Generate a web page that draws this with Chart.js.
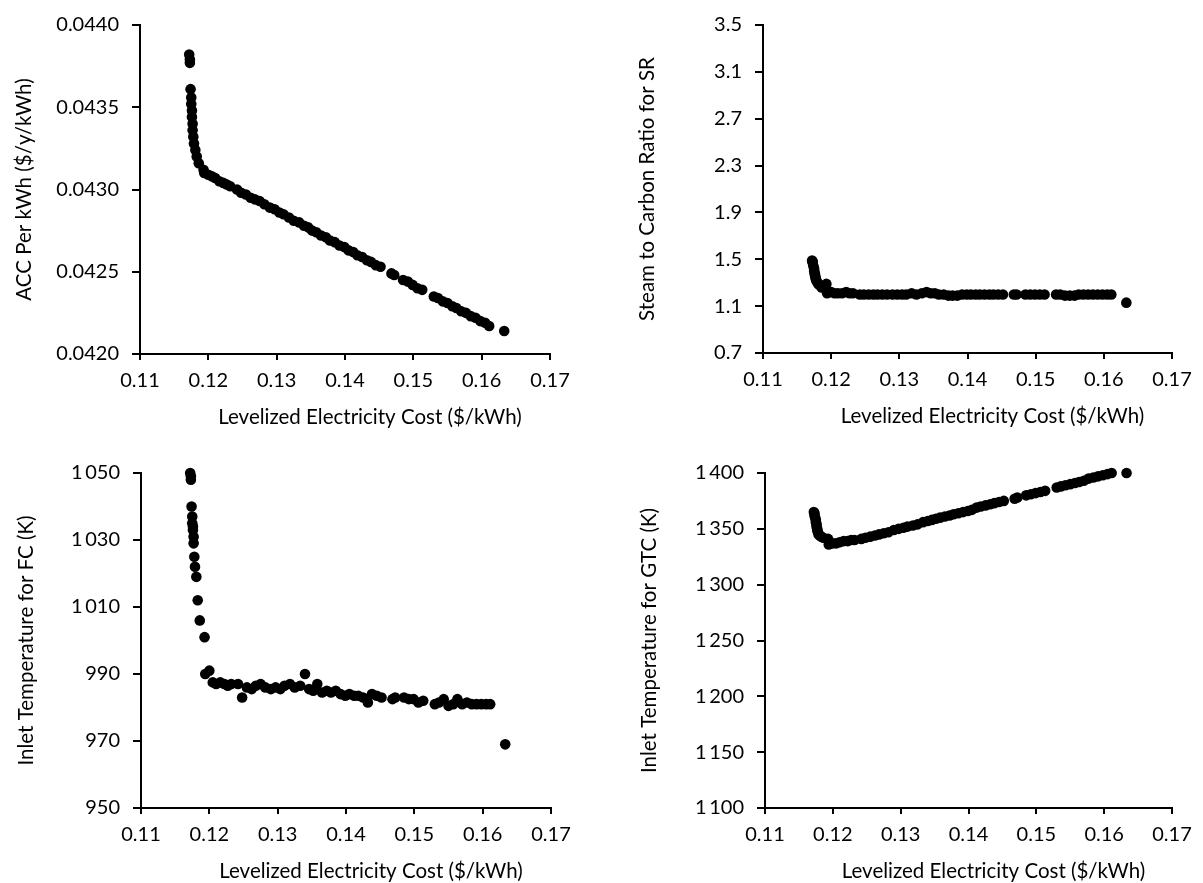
<!DOCTYPE html>
<html>
<head>
<meta charset="utf-8">
<script src="https://cdn.jsdelivr.net/npm/chart.js@4.4.1/dist/chart.umd.min.js"></script>
<style>
html, body { margin: 0; padding: 0; background: #ffffff; }
body { width: 1203px; height: 883px; position: relative; overflow: hidden; }
canvas { position: absolute; }
</style>
</head>
<body>
<canvas id="c1"></canvas>
<canvas id="c2"></canvas>
<canvas id="c3"></canvas>
<canvas id="c4"></canvas>
<script>
// ---- Data ----
const xCost = [
  0.1172,0.1173,0.1173,0.1174,0.1175,0.1175,0.1176,0.1176,0.1177,0.1177,
  0.1178,0.1179,0.1181,0.1183,0.1186,0.1193,0.1194,0.1200,0.1205,0.1210,
  0.1216,0.1222,0.1227,0.1232,0.1242,0.1248,0.1255,0.1262,0.1268,0.1275,
  0.1282,0.1290,0.1297,0.1304,0.1310,0.1318,0.1325,0.1333,0.1340,0.1346,
  0.1352,0.1358,0.1365,0.1372,0.1378,0.1385,0.1392,0.1399,0.1405,0.1412,
  0.1418,0.1425,0.1432,0.1438,0.1445,0.1452,0.1468,0.1472,0.1485,0.1492,
  0.1499,0.1506,0.1513,0.1530,0.1536,0.1543,0.1550,0.1557,0.1563,0.1570,
  0.1577,0.1584,0.1591,0.1598,0.1605,0.1611,0.1633
];
const accPerKwh = [
  0.04382,0.04379,0.04377,0.04361,0.04356,0.04352,0.04348,0.04344,0.04340,0.04336,
  0.04332,0.04328,0.04324,0.04320,0.04316,0.04312,0.04310,0.04309,0.04308,0.04307,
  0.04305,0.04304,0.04303,0.04302,0.04300,0.04298,0.04297,0.04295,0.04294,0.04293,
  0.04291,0.04289,0.04288,0.04286,0.04285,0.04283,0.04281,0.04280,0.04278,0.04277,
  0.04275,0.04274,0.04272,0.04271,0.04269,0.04268,0.04266,0.04265,0.04263,0.04262,
  0.04260,0.04259,0.04257,0.04256,0.04254,0.04253,0.04249,0.04248,0.04245,0.04244,
  0.04242,0.04240,0.04239,0.04235,0.04234,0.04232,0.04231,0.04229,0.04228,0.04226,
  0.04225,0.04223,0.04222,0.04220,0.04219,0.04217,0.04214
];
const steamCarbon = [
  1.49,1.48,1.47,1.44,1.42,1.40,1.38,1.37,1.35,1.34,
  1.32,1.31,1.29,1.28,1.26,1.29,1.21,1.22,1.21,1.21,
  1.21,1.22,1.21,1.21,1.20,1.20,1.20,1.20,1.20,1.20,
  1.20,1.20,1.20,1.20,1.20,1.21,1.20,1.21,1.22,1.21,
  1.21,1.20,1.20,1.19,1.19,1.19,1.20,1.20,1.20,1.20,
  1.20,1.20,1.20,1.20,1.20,1.20,1.20,1.20,1.20,1.20,
  1.20,1.20,1.20,1.20,1.20,1.19,1.19,1.19,1.20,1.20,
  1.20,1.20,1.20,1.20,1.20,1.20,1.13
];
const fcInletTemp = [
  1050,1049,1048,1040,1037,1035,1034,1033,1031,1029,
  1025,1022,1019,1012,1006,1001,990,991,987.5,987,
  987.5,987,986.5,987,987,983,986,985.5,986.5,987,
  986,985.5,986,985.5,986.5,987,986,986.5,990,985.5,
  985,987,984.5,985,984.5,985,984,983.5,984,983.5,
  983.5,983,981.5,984,983.5,983,982.5,983,983,982.5,
  982.5,981.5,982,981,981.5,982.5,980.5,981,982.5,981,
  981.5,981,981,981,981,981,969
];
const gtcInletTemp = [
  1365,1364,1362,1360,1358,1356,1354,1352,1350,1349,
  1347,1345,1344,1343,1342,1341,1336,1337,1337,1338,
  1339,1339,1340,1340,1341,1342,1343,1344,1345,1346,
  1347,1349,1350,1351,1352,1353,1354,1356,1357,1358,
  1359,1360,1361,1362,1363,1364,1365,1366,1367,1369,
  1370,1371,1372,1373,1374,1375,1377,1378,1380,1381,
  1382,1383,1384,1387,1388,1389,1390,1391,1392,1393,
  1395,1396,1397,1398,1399,1400,1400
];
const xTicks = [0.11, 0.12, 0.13, 0.14, 0.15, 0.16, 0.17];
const accTicks = [0.0420, 0.0425, 0.0430, 0.0435, 0.0440];
const srTicks = [0.7, 1.1, 1.5, 1.9, 2.3, 2.7, 3.1, 3.5];
const fcTicks = [950, 970, 990, 1010, 1030, 1050];
const gtcTicks = [1100, 1150, 1200, 1250, 1300, 1350, 1400];
const xTitleText = 'Levelized Electricity Cost ($/kWh)';

// ---- Styling / layout ----
const FONT = 'Lato';
const TICK_SIZE = 20;
const TITLE_SIZE = 20.5;

function spaced(v) {
  return String(v).replace(/\B(?=(\d{3})+(?!\d))/g, '\u2009');
}

const panels = [
  { id: 'c1', left: 0, top: 0, w: 600, h: 440, area: { l: 140, r: 550, t: 20, b: 354 },
    y: accPerKwh, ticks: accTicks, fmt: v => v.toFixed(4), yTitle: 'ACC Per kWh ($/y/kWh)', yTitleX: 24 },
  { id: 'c2', left: 600, top: 0, w: 603, h: 440, area: { l: 763, r: 1172, t: 21, b: 353 },
    y: steamCarbon, ticks: srTicks, fmt: v => v.toFixed(1), yTitle: 'Steam to Carbon Ratio for SR', yTitleX: 647 },
  { id: 'c3', left: 0, top: 440, w: 600, h: 443, area: { l: 141, r: 551, t: 473, b: 808 },
    y: fcInletTemp, ticks: fcTicks, fmt: v => spaced(v), yTitle: 'Inlet Temperature for FC (K)', yTitleX: 26 },
  { id: 'c4', left: 600, top: 440, w: 603, h: 443, area: { l: 765, r: 1172, t: 473, b: 808 },
    y: gtcInletTemp, ticks: gtcTicks, fmt: v => spaced(v), yTitle: 'Inlet Temperature for GTC (K)', yTitleX: 649 }
];

const xTitlePlugin = {
  id: 'xTitle',
  afterDraw(chart, args, opts) {
    const { ctx, chartArea: a } = chart;
    ctx.save();
    ctx.font = opts.size + 'px ' + FONT;
    ctx.fillStyle = '#000';
    ctx.textAlign = 'center';
    ctx.textBaseline = 'middle';
    ctx.fillText(opts.text, (a.left + a.right) / 2 + opts.dx, a.bottom + opts.dy);
    ctx.restore();
  }
};

function makeChart(p) {
  const cv = document.getElementById(p.id);
  cv.width = p.w; cv.height = p.h;
  cv.style.left = p.left + 'px'; cv.style.top = p.top + 'px';
  cv.style.width = p.w + 'px'; cv.style.height = p.h + 'px';
  const a = p.area;
  const lh = TITLE_SIZE * 1.2;
  const points = xCost.map((x, i) => ({ x: x, y: p.y[i] }));
  return new Chart(cv, {
    type: 'scatter',
    data: { datasets: [{
      data: points,
      backgroundColor: '#000', borderColor: '#000', borderWidth: 0,
      pointRadius: 5.3, pointHoverRadius: 5.3, clip: false
    }] },
    options: {
      responsive: false, animation: false, devicePixelRatio: 1,
      events: [],
      layout: { padding: { left: 0, top: a.t - p.top, right: p.left + p.w - a.r, bottom: 0 } },
      plugins: {
        legend: { display: false }, tooltip: { enabled: false },
        xTitle: { text: xTitleText, size: TITLE_SIZE, dx: 25, dy: 63 }
      },
      scales: {
        x: {
          type: 'linear', position: 'bottom',
          min: xTicks[0], max: xTicks[xTicks.length - 1],
          afterBuildTicks: s => { s.ticks = xTicks.map(v => ({ value: v })); },
          afterFit: s => { s.height = p.top + p.h - a.b; },
          grid: { display: true, drawOnChartArea: false, drawTicks: true, tickLength: 6, color: '#000', lineWidth: 2 },
          border: { display: true, color: '#000', width: 2 },
          ticks: { color: '#000', font: { family: FONT, size: TICK_SIZE }, padding: 9,
                   autoSkip: false, maxRotation: 0, minRotation: 0, callback: v => Number(v).toFixed(2) }
        },
        y: {
          type: 'linear', position: 'left',
          min: p.ticks[0], max: p.ticks[p.ticks.length - 1],
          afterBuildTicks: s => { s.ticks = p.ticks.map(v => ({ value: v })); },
          afterFit: s => { s.width = a.l - p.left; },
          grid: { display: true, drawOnChartArea: false, drawTicks: true, tickLength: 8, color: '#000', lineWidth: 2 },
          border: { display: true, color: '#000', width: 2 },
          ticks: { color: '#000', font: { family: FONT, size: TICK_SIZE }, padding: 13,
                   autoSkip: false, callback: v => p.fmt(v) },
          title: { display: true, text: p.yTitle, color: '#000',
                   font: { family: FONT, size: TITLE_SIZE, lineHeight: 1.2 },
                   padding: { top: p.yTitleX - p.left - lh / 2, bottom: 0 } }
        }
      }
    },
    plugins: [xTitlePlugin]
  });
}

function build() {
  Chart.defaults.font.family = FONT;
  Chart.defaults.color = '#000';
  panels.forEach(makeChart);
}

if (document.fonts && document.fonts.load) {
  Promise.all([document.fonts.load(TICK_SIZE + 'px ' + FONT), document.fonts.load(TITLE_SIZE + 'px ' + FONT)])
    .then(build, build);
} else {
  build();
}
</script>
</body>
</html>
